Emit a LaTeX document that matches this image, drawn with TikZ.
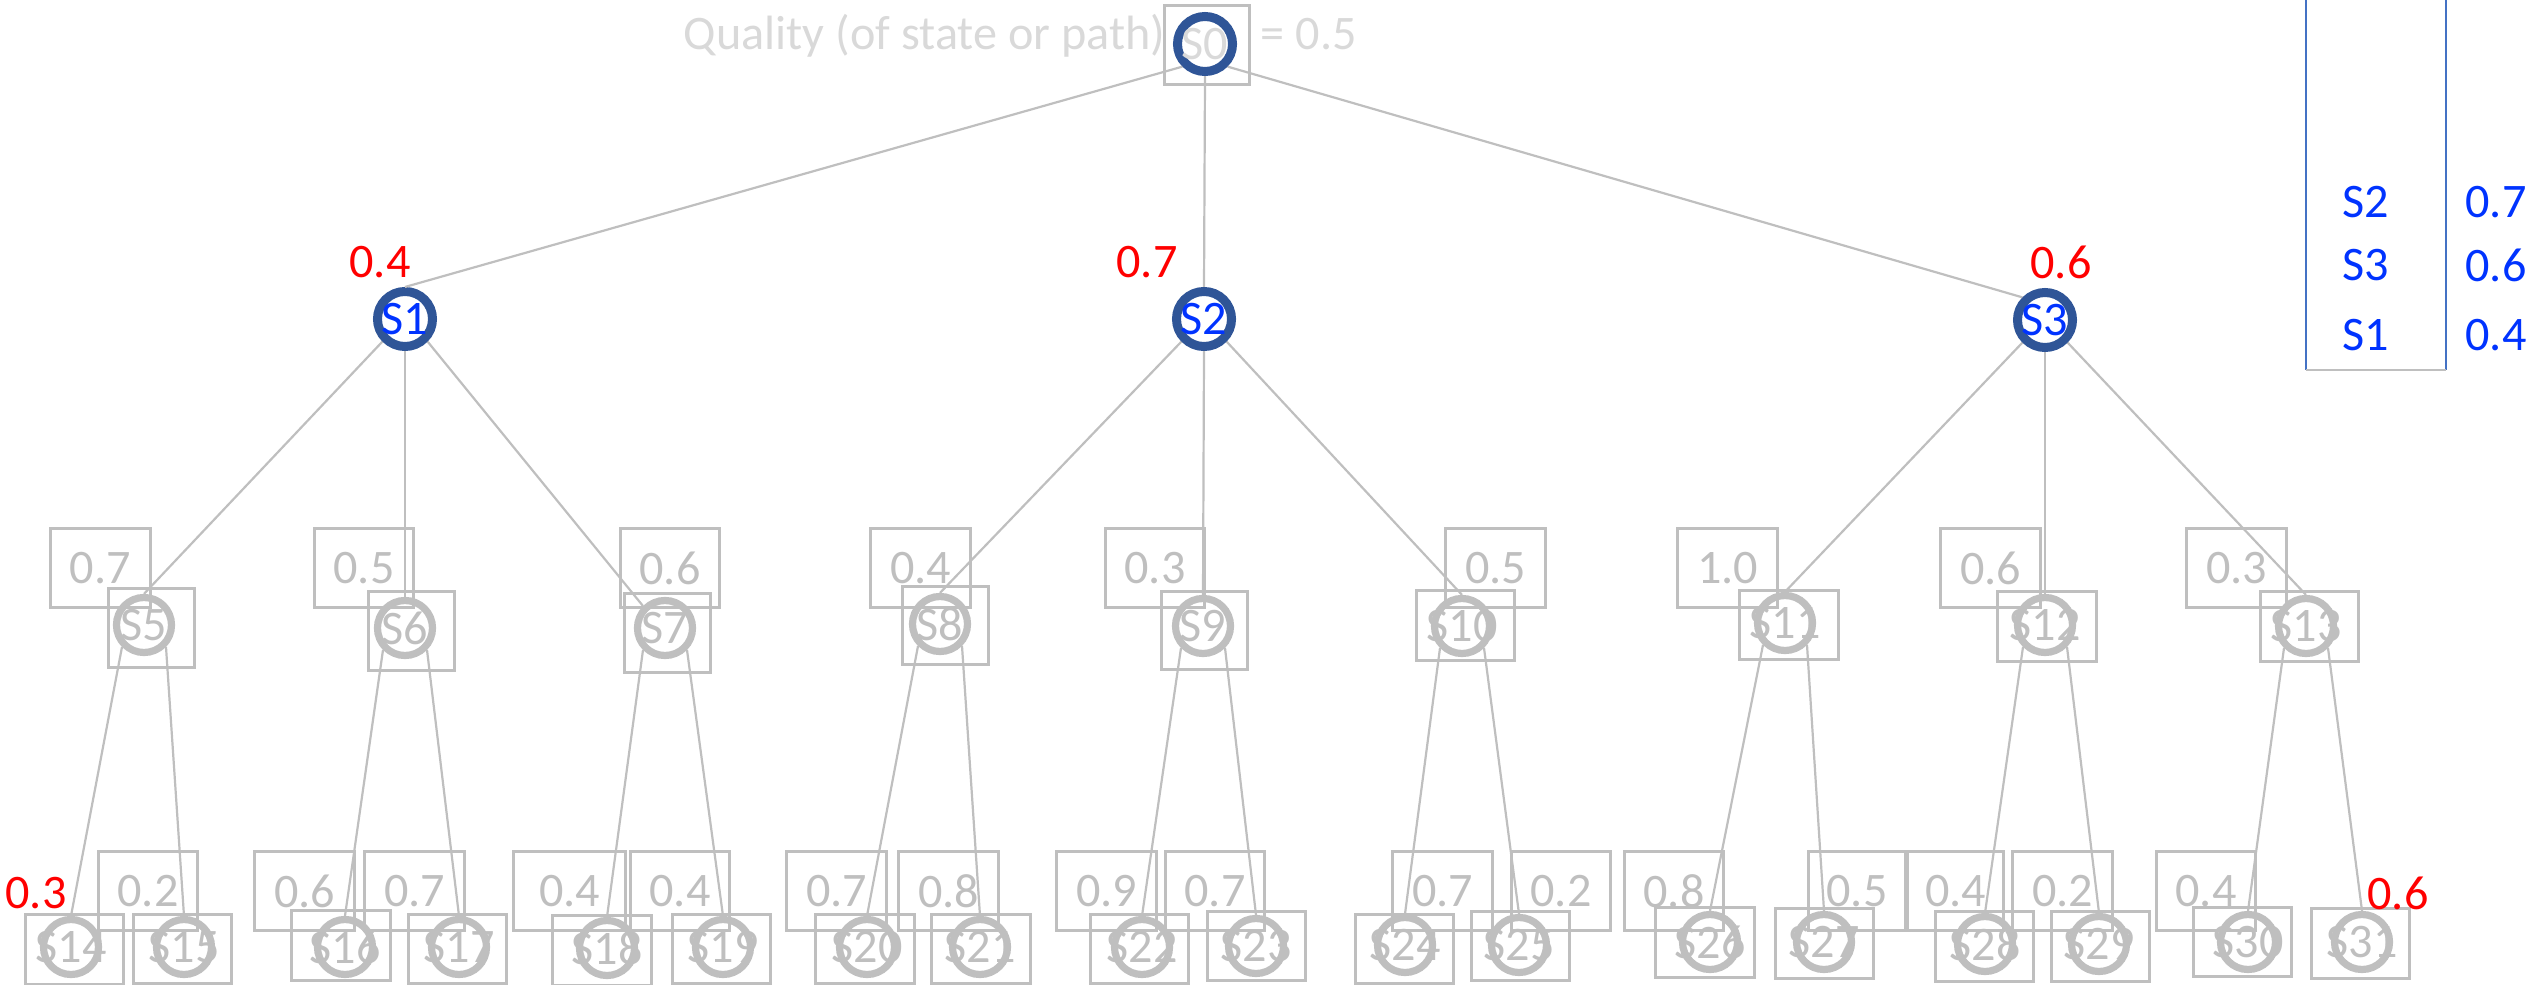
\documentclass[tikz,border=0pt]{standalone}
\usepackage{fontspec}
\setmainfont{Carlito}
\begin{document}
\begin{tikzpicture}[x=0.01cm,y=-0.01cm,
    state/.style={circle,draw=r191g191b191,line width=0.072cm,minimum size=0.55cm,inner sep=0pt},
    beststate/.style={state,draw=r47g85b151,line width=0.09cm,minimum size=0.55cm},
    sbox/.style={rectangle,draw=r191g191b191,line width=0.03cm,minimum width=0.85cm,minimum height=0.78cm,inner sep=0pt},
    sboxw/.style={sbox,minimum width=0.98cm,minimum height=0.69cm},
    qbox/.style={rectangle,draw=r191g191b191,line width=0.03cm,text=r191g191b191,minimum width=0.99cm,minimum height=0.78cm,inner sep=0pt},
    qred/.style={text=r255g0b0,inner sep=0pt},
    link/.style={draw=r191g191b191,line width=0.022cm}]
                    \useasboundingbox (0,0) rectangle (2539,985);
                    {\fontsize{13.7}{16}\selectfont

                    % Changing color 191 191 191
                    \definecolor{r191g191b191}{rgb}{0.749020,0.749020,0.749020}%
                    % Changing color 217 217 217
                    \definecolor{r217g217b217}{rgb}{0.850980,0.850980,0.850980}%
                    % Changing color 47 85 151
                    \definecolor{r47g85b151}{rgb}{0.184314,0.333333,0.592157}%
                    % Changing color 255 0 0
                    \definecolor{r255g0b0}{rgb}{1.000000,0.000000,0.000000}%
                    % Changing color 0 51 255
                    \definecolor{r0g51b255}{rgb}{0.000000,0.200000,1.000000}%
                    % Changing color 68 114 196
                    \definecolor{r68g114b196}{rgb}{0.266667,0.447059,0.768627}%

                    % Root state S0 with its quality
                    \node[sbox] (b0) at (1207,45) {};
                    \node[beststate,label={[text=r217g217b217]center:S0}] (s0) at (1205,44) {};
                    \node[anchor=base east,inner sep=0pt,text=r217g217b217] (title) at (1166,50) {Quality (of state or path)};
                    \node[anchor=base west,inner sep=0pt,text=r217g217b217] (q0) at (1260,50) {= 0.5};

                    % Level 1 states S1 S2 S3
                    \node[beststate,label={[text=r0g51b255]center:S1}] (s1) at (405,319) {};
                    \node[beststate,label={[text=r0g51b255]center:S2}] (s2) at (1204,319) {};
                    \node[beststate,label={[text=r0g51b255]center:S3}] (s3) at (2045,320) {};
                    \node[qred] (q1) at (380,262) {0.4};
                    \node[qred] (q2) at (1147,262) {0.7};
                    \node[qred] (q3) at (2061,262) {0.6};

                    % Level 2 states S5 .. S13
                    \node[sbox] (b5) at (151.5,628) {};
                    \node[state,label={[text=r191g191b191]center:S5}] (s5) at (144,625) {};
                    \node[qbox] (v5) at (100.5,568) {0.7};
                    \node[sbox] (b6) at (411.5,631) {};
                    \node[state,label={[text=r191g191b191]center:S6}] (s6) at (405,628) {};
                    \node[qbox] (v6) at (364,568) {0.5};
                    \node[sbox] (b7) at (667.5,633) {};
                    \node[state,label={[text=r191g191b191]center:S7}] (s7) at (665,628) {};
                    \node[qbox] (v7) at (670,568) {0.6};
                    \node[sbox] (b8) at (945.5,625.5) {};
                    \node[state,label={[text=r191g191b191]center:S8}] (s8) at (940,624) {};
                    \node[qbox] (v8) at (920.5,568) {0.4};
                    \node[sbox] (b9) at (1204.5,630.5) {};
                    \node[state,label={[text=r191g191b191]center:S9}] (s9) at (1203,626) {};
                    \node[qbox] (v9) at (1155,568) {0.3};
                    \node[sboxw] (b10) at (1465.5,625.5) {};
                    \node[state,label={[text=r191g191b191]center:S10}] (s10) at (1462,626) {};
                    \node[qbox] (v10) at (1495.5,568) {0.5};
                    \node[sboxw] (b11) at (1789,625) {};
                    \node[state,label={[text=r191g191b191]center:S11}] (s11) at (1785,623) {};
                    \node[qbox] (v11) at (1727.5,568) {1.0};
                    \node[sboxw] (b12) at (2047,626.5) {};
                    \node[state,label={[text=r191g191b191]center:S12}] (s12) at (2045,625) {};
                    \node[qbox] (v12) at (1990.5,568) {0.6};
                    \node[sboxw] (b13) at (2309.5,626.5) {};
                    \node[state,label={[text=r191g191b191]center:S13}] (s13) at (2306,626) {};
                    \node[qbox] (v13) at (2236.5,568) {0.3};

                    % Level 3 states S14 .. S31
                    \node[sboxw] (b14) at (74.5,949.5) {};
                    \node[state,label={[text=r191g191b191]center:S14}] (s14) at (71,947) {};
                    \node[qred] (q14) at (36,893) {0.3};
                    \node[sboxw] (b15) at (182.5,949) {};
                    \node[state,label={[text=r191g191b191]center:S15}] (s15) at (184,947) {};
                    \node[qbox] (v15) at (148,891) {0.2};
                    \node[sboxw] (b16) at (341,945.5) {};
                    \node[state,label={[text=r191g191b191]center:S16}] (s16) at (345,947) {};
                    \node[qbox] (v16) at (304.5,891) {0.6};
                    \node[sboxw] (b17) at (457.5,949) {};
                    \node[state,label={[text=r191g191b191]center:S17}] (s17) at (459,947) {};
                    \node[qbox] (v17) at (414.5,891) {0.7};
                    \node[sboxw] (b18) at (602,950.5) {};
                    \node[state,label={[text=r191g191b191]center:S18}] (s18) at (607,948) {};
                    \node[qbox,minimum width=1.12cm] (v18) at (569.5,891) {0.4};
                    \node[sboxw] (b19) at (721.5,949) {};
                    \node[state,label={[text=r191g191b191]center:S19}] (s19) at (723,947) {};
                    \node[qbox] (v19) at (680,891) {0.4};
                    \node[sboxw] (b20) at (865,949) {};
                    \node[state,label={[text=r191g191b191]center:S20}] (s20) at (867,947) {};
                    \node[qbox] (v20) at (836.5,891) {0.7};
                    \node[sboxw] (b21) at (981,949) {};
                    \node[state,label={[text=r191g191b191]center:S21}] (s21) at (980,947) {};
                    \node[qbox] (v21) at (948.5,891) {0.8};
                    \node[sboxw] (b22) at (1139.5,949) {};
                    \node[state,label={[text=r191g191b191]center:S22}] (s22) at (1142,947) {};
                    \node[qbox] (v22) at (1106.5,891) {0.9};
                    \node[sboxw] (b23) at (1256.5,946) {};
                    \node[state,label={[text=r191g191b191]center:S23}] (s23) at (1256,946) {};
                    \node[qbox] (v23) at (1215,891) {0.7};
                    \node[sboxw] (b24) at (1404.5,949) {};
                    \node[state,label={[text=r191g191b191]center:S24}] (s24) at (1405,945) {};
                    \node[qbox] (v24) at (1442.5,891) {0.7};
                    \node[sboxw] (b25) at (1520.5,946) {};
                    \node[state,label={[text=r191g191b191]center:S25}] (s25) at (1519,945) {};
                    \node[qbox] (v25) at (1561,891) {0.2};
                    \node[sboxw] (b26) at (1705,942.5) {};
                    \node[state,label={[text=r191g191b191]center:S26}] (s26) at (1710,942) {};
                    \node[qbox] (v26) at (1674,891) {0.8};
                    \node[sboxw] (b27) at (1824.5,943.5) {};
                    \node[state,label={[text=r191g191b191]center:S27}] (s27) at (1824,942) {};
                    \node[qbox,minimum width=0.96cm] (v27) at (1857,891) {0.5};
                    \node[sboxw] (b28) at (1984.5,946.5) {};
                    \node[state,label={[text=r191g191b191]center:S28}] (s28) at (1985,944) {};
                    \node[qbox,minimum width=0.95cm] (v28) at (1955.5,891) {0.4};
                    \node[sboxw] (b29) at (2100.5,946.5) {};
                    \node[state,label={[text=r191g191b191]center:S29}] (s29) at (2099,944) {};
                    \node[qbox] (v29) at (2062.5,891) {0.2};
                    \node[sboxw] (b30) at (2242.5,942) {};
                    \node[state,label={[text=r191g191b191]center:S30}] (s30) at (2248,942) {};
                    \node[qbox] (v30) at (2206,891) {0.4};
                    \node[sboxw] (b31) at (2360,943.5) {};
                    \node[state,label={[text=r191g191b191]center:S31}] (s31) at (2362,942) {};
                    \node[qred] (q31) at (2398,893) {0.6};

                    % Drawing lines from S0
                    \draw[link] (s0.225) -- (s1.north);
                    \draw[link] (s0.south) -- (s2.north);
                    \draw[link] (s0.315) -- (s3.135);

                    % Drawing lines from level 1
                    \draw[link] (s1.225) -- (s5.north);
                    \draw[link] (s1.south) -- (s6.north);
                    \draw[link] (s1.315) -- (s7.135);
                    \draw[link] (s2.225) -- (s8.north);
                    \draw[link] (s2.south) -- (s9.north);
                    \draw[link] (s2.315) -- (s10.north);
                    \draw[link] (s3.225) -- (s11.north);
                    \draw[link] (s3.south) -- (s12.north);
                    \draw[link] (s3.315) -- (s13.north);

                    % Drawing lines from level 2
                    \draw[link] (s5.225) -- (s14.north);
                    \draw[link] (s5.315) -- (s15.north);
                    \draw[link] (s6.225) -- (s16.north);
                    \draw[link] (s6.315) -- (s17.north);
                    \draw[link] (s7.225) -- (s18.north);
                    \draw[link] (s7.315) -- (s19.north);
                    \draw[link] (s8.225) -- (s20.north);
                    \draw[link] (s8.315) -- (s21.north);
                    \draw[link] (s9.225) -- (s22.north);
                    \draw[link] (s9.315) -- (s23.north);
                    \draw[link] (s10.225) -- (s24.north);
                    \draw[link] (s10.315) -- (s25.north);
                    \draw[link] (s11.225) -- (s26.north);
                    \draw[link] (s11.315) -- (s27.north);
                    \draw[link] (s12.225) -- (s28.north);
                    \draw[link] (s12.315) -- (s29.north);
                    \draw[link] (s13.225) -- (s30.north);
                    \draw[link] (s13.315) -- (s31.north);

                    % Ranking list of level 1
                    \coordinate (lgl) at (2306,0);
                    \coordinate (lgr) at (2446,0);
                    \coordinate (lgbl) at (2306,370);
                    \coordinate (lgbr) at (2446,370);
                    \draw[draw=r68g114b196,line width=0.025cm] (lgl) -- (lgbl);
                    \draw[draw=r68g114b196,line width=0.025cm] (lgr) -- (lgbr);
                    \draw[draw=r191g191b191,line width=0.025cm] (lgbl) -- (lgbr);
                    \node[text=r0g51b255] (lk1) at (2366,202) {S2};
                    \node[text=r0g51b255] (lv1) at (2496,202) {0.7};
                    \node[text=r0g51b255] (lk2) at (2366,265) {S3};
                    \node[text=r0g51b255] (lv2) at (2496,265) {0.6};
                    \node[text=r0g51b255] (lk3) at (2366,335) {S1};
                    \node[text=r0g51b255] (lv3) at (2496,335) {0.4};
                    }
\end{tikzpicture}
\end{document}
